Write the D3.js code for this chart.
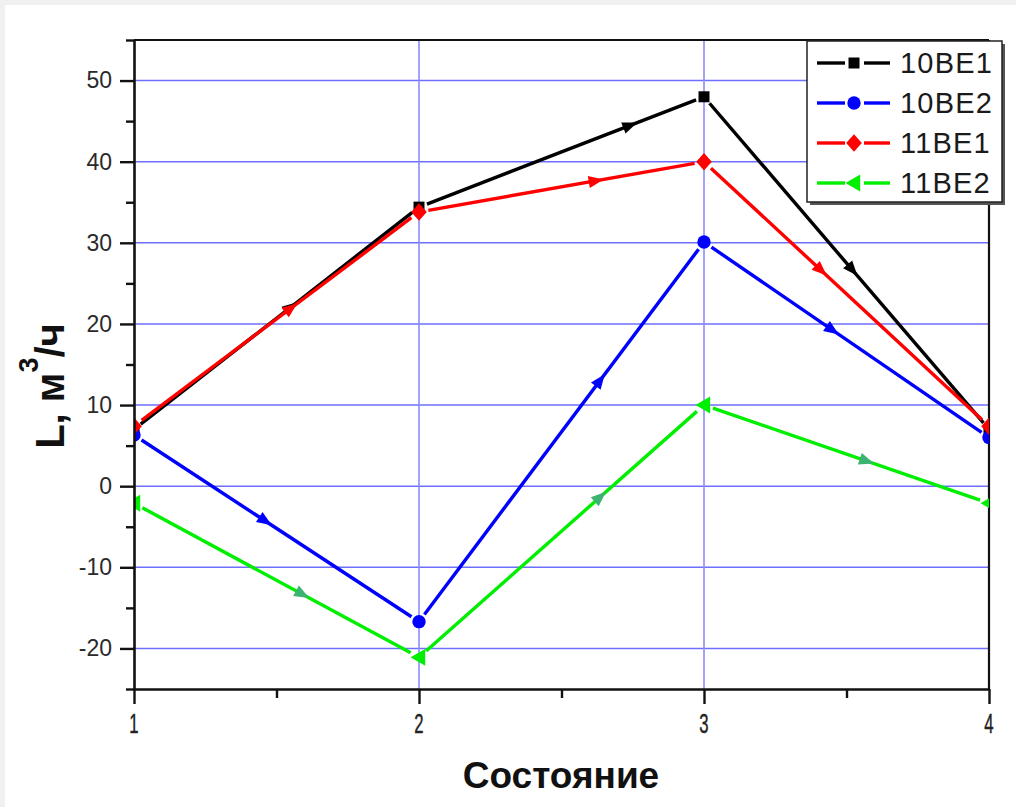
<!DOCTYPE html>
<html>
<head>
<meta charset="utf-8">
<script src="https://cdn.jsdelivr.net/npm/d3@7/dist/d3.min.js"></script>
<style>
  html, body { margin: 0; padding: 0; background: #f0f0f0; }
  svg { display: block; }
</style>
</head>
<body>
<svg id="chart" width="1016" height="807"></svg>
<script>
// States on the horizontal axis
const states = [1, 2, 3, 4];
// Flow rate L, m3/h, for each unit
const flow10BE1 = [7.0, 34.4, 48.0, 7.0];
const flow10BE2 = [6.3, -16.7, 30.1, 6.0];
const flow11BE1 = [7.4, 33.8, 40.0, 7.4];
const flow11BE2 = [-2.1, -21.1, 10.0, -2.1];
const seriesNames = ["10BE1", "10BE2", "11BE1", "11BE2"];
const yTickValues = [-20, -10, 0, 10, 20, 30, 40, 50];
const xTickValues = [1, 2, 3, 4];

const svg = d3.select("#chart");
const W = 1016, H = 807;
const plot = { left: 134, right: 989, top: 40, bottom: 689 };

// white page area
svg.append("rect").attr("x", 5).attr("y", 5).attr("width", W - 5).attr("height", H - 5).attr("fill", "#fff");

const x = d3.scaleLinear().domain([1, 4]).range([plot.left, plot.right]);
const y = d3.scaleLinear().domain([-25, 55]).range([plot.bottom, plot.top]);

const gridColor = "#6f6fff";

// grid
const grid = svg.append("g");
grid.selectAll("line.h").data(yTickValues).join("line")
  .attr("x1", plot.left).attr("x2", plot.right)
  .attr("y1", d => y(d)).attr("y2", d => y(d))
  .attr("stroke", gridColor).attr("stroke-width", 1.6);
grid.selectAll("line.v").data(xTickValues.slice(1, -1)).join("line")
  .attr("y1", plot.top).attr("y2", plot.bottom)
  .attr("x1", d => x(d)).attr("x2", d => x(d))
  .attr("stroke", "#8c8cff").attr("stroke-width", 1.6);

// frame top and right
svg.append("line").attr("x1", plot.left).attr("x2", plot.right).attr("y1", plot.top).attr("y2", plot.top)
  .attr("stroke", "#111").attr("stroke-width", 2.2);
svg.append("line").attr("x1", plot.right).attr("x2", plot.right).attr("y1", plot.top).attr("y2", plot.bottom)
  .attr("stroke", "#111").attr("stroke-width", 2.2);

// clip for the data
svg.append("clipPath").attr("id", "plotclip").append("rect")
  .attr("x", plot.left).attr("y", plot.top)
  .attr("width", plot.right - plot.left).attr("height", plot.bottom - plot.top);

const series = [
  { name: seriesNames[0], values: flow10BE1, color: "#000000", arrow: "#000000", marker: "square", frac: [0.55, 0.74, 0.52] },
  { name: seriesNames[1], values: flow10BE2, color: "#0000ff", arrow: "#0000ff", marker: "circle", frac: [0.46, 0.635, 0.45] },
  { name: seriesNames[2], values: flow11BE1, color: "#ff0000", arrow: "#ff0000", marker: "diamond", frac: [0.55, 0.62, 0.41] },
  { name: seriesNames[3], values: flow11BE2, color: "#00ee00", arrow: "#3cb371", marker: "triangle", frac: [0.59, 0.635, 0.57] }
];

function markerPath(type, s) {
  if (type === "square") return `M${-s},${-s}H${s}V${s}H${-s}Z`;
  if (type === "diamond") return `M0,${-s * 1.35}L${s * 1.2},0L0,${s * 1.35}L${-s * 1.2},0Z`;
  if (type === "triangle") return `M${-s * 1.3},0L${s * 0.95},${-s * 1.3}L${s * 0.95},${s * 1.3}Z`;
  return d3.symbol(d3.symbolCircle, Math.PI * s * s * 1.25)();
}
const markerSize = { square: 5.5, circle: 6, diamond: 6.5, triangle: 6.5 };

const data = svg.append("g").attr("clip-path", "url(#plotclip)");

series.forEach(s => {
  const g = data.append("g");
  const pts = s.values.map((v, i) => [x(states[i]), y(v)]);
  const gap = markerSize[s.marker] + 3;
  for (let i = 0; i < pts.length - 1; i++) {
    const [x0, y0] = pts[i], [x1, y1] = pts[i + 1];
    const dx = x1 - x0, dy = y1 - y0, len = Math.hypot(dx, dy);
    const ux = dx / len, uy = dy / len;
    g.append("line")
      .attr("x1", x0 + ux * gap).attr("y1", y0 + uy * gap)
      .attr("x2", x1 - ux * gap).attr("y2", y1 - uy * gap)
      .attr("stroke", s.color).attr("stroke-width", 3.4);
    // direction arrow along the segment
    const f = s.frac[i];
    const ax = x0 + dx * f, ay = y0 + dy * f;
    const ang = Math.atan2(dy, dx) * 180 / Math.PI;
    g.append("path")
      .attr("d", "M8,0L-7,-6L-7,6Z")
      .attr("transform", `translate(${ax},${ay}) rotate(${ang})`)
      .attr("fill", s.arrow);
  }
  g.selectAll("path.m").data(pts).join("path")
    .attr("d", markerPath(s.marker, markerSize[s.marker]))
    .attr("transform", d => `translate(${d[0]},${d[1]})`)
    .attr("fill", s.color);
});

// axes
const axisColor = "#111";
const yAxis = svg.append("g").attr("transform", `translate(${plot.left},0)`)
  .call(d3.axisLeft(y).tickValues(yTickValues).tickSize(14).tickSizeOuter(0).tickPadding(8).tickFormat(d => String(d)));
svg.append("g").attr("transform", `translate(${plot.left},0)`)
  .call(d3.axisLeft(y).tickValues(d3.range(-25, 56, 10)).tickSize(8).tickSizeOuter(0).tickFormat(""))
  .select(".domain").remove();
yAxis.select(".domain").attr("stroke", axisColor).attr("stroke-width", 2.6);
yAxis.selectAll("text").attr("font-family", "Liberation Sans, Arial, sans-serif")
  .attr("font-size", 23).attr("fill", "#2a2a2a");

const xAxis = svg.append("g").attr("transform", `translate(0,${plot.bottom})`)
  .call(d3.axisBottom(x).tickValues(xTickValues).tickSize(15).tickSizeOuter(0).tickFormat(""));
svg.append("g").attr("transform", `translate(0,${plot.bottom})`)
  .call(d3.axisBottom(x).tickValues([1.5, 2.5, 3.5]).tickSize(9).tickSizeOuter(0).tickFormat(""))
  .select(".domain").remove();
xAxis.select(".domain").attr("stroke", axisColor).attr("stroke-width", 2.6);
svg.selectAll("g.tick line").attr("stroke", axisColor).attr("stroke-width", 2.4);
// narrow tick labels on the state axis
svg.append("g").selectAll("text").data(xTickValues).join("text")
  .attr("transform", d => `translate(${x(d)},733) scale(0.62,1)`)
  .attr("text-anchor", "middle")
  .attr("font-family", "Liberation Sans, Arial, sans-serif")
  .attr("font-size", 27).attr("fill", "#222")
  .attr("stroke", "#222").attr("stroke-width", 0.4)
  .text(d => d);

// axis titles
svg.append("text").attr("x", 561).attr("y", 788).attr("text-anchor", "middle")
  .attr("font-family", "Liberation Sans, Arial, sans-serif").attr("font-weight", "bold")
  .attr("font-size", 37).attr("fill", "#111").text("Состояние");

const yt = svg.append("text").attr("transform", "translate(64,386) rotate(-90)").attr("text-anchor", "middle")
  .attr("font-family", "Liberation Sans, Arial, sans-serif").attr("font-weight", "bold")
  .attr("font-size", 40).attr("fill", "#111");
yt.append("tspan").text("L, м");
yt.append("tspan").attr("font-size", 27).attr("dy", -26).text("3");
yt.append("tspan").attr("dy", 26).text("/ч");

// legend
const lg = svg.append("g");
lg.append("rect").attr("x", 810).attr("y", 44).attr("width", 195).attr("height", 161).attr("fill", "#555");
lg.append("rect").attr("x", 807).attr("y", 41).attr("width", 195).attr("height", 161)
  .attr("fill", "#fff").attr("stroke", "#222").attr("stroke-width", 1.5);
series.forEach((s, i) => {
  const cy = 63 + i * 40;
  const row = lg.append("g");
  row.append("line").attr("x1", 817).attr("x2", 845).attr("y1", cy).attr("y2", cy)
    .attr("stroke", s.color).attr("stroke-width", 3.4);
  row.append("line").attr("x1", 864).attr("x2", 890).attr("y1", cy).attr("y2", cy)
    .attr("stroke", s.color).attr("stroke-width", 3.4);
  row.append("path").attr("d", markerPath(s.marker, markerSize[s.marker]))
    .attr("transform", `translate(854,${cy})`).attr("fill", s.color);
  row.append("text").attr("x", 900).attr("y", cy + 10)
    .attr("font-family", "Liberation Sans, Arial, sans-serif").attr("font-size", 29)
    .attr("letter-spacing", 1.2).attr("fill", "#1a1a1a").text(s.name);
});
</script>
</body>
</html>
